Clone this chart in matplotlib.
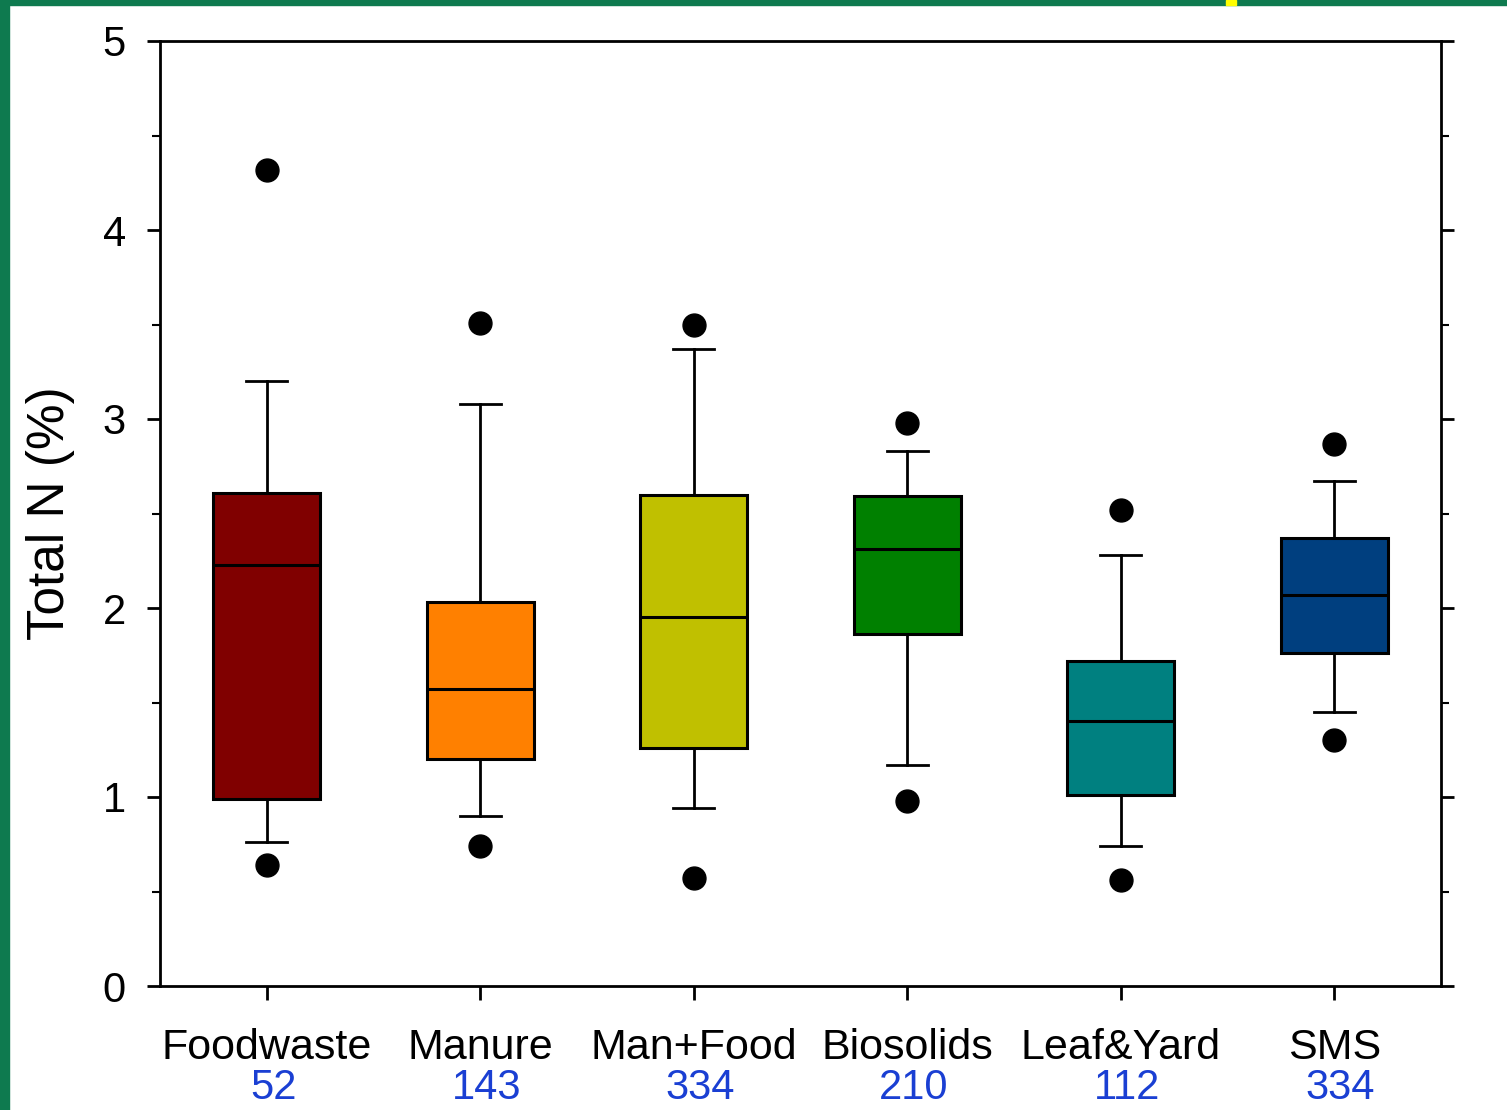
import numpy as np
from matplotlib import pyplot as plt
from matplotlib.patches import Rectangle
from matplotlib.transforms import blended_transform_factory

plt.rcParams['font.family'] = ['Liberation Sans', 'DejaVu Sans']

categories = ['Foodwaste', 'Manure', 'Man+Food', 'Biosolids', 'Leaf&Yard', 'SMS']
counts = ['52', '143', '334', '210', '112', '334']
colors = ['#800000', '#FF8000', '#C0C000', '#008000', '#008080', '#003F7F']

# Box statistics for total N (%)
whisker_low = [0.76, 0.90, 0.94, 1.17, 0.74, 1.45]
q1 = [0.99, 1.20, 1.26, 1.86, 1.01, 1.76]
median = [2.23, 1.57, 1.95, 2.31, 1.40, 2.07]
q3 = [2.61, 2.03, 2.60, 2.59, 1.72, 2.37]
whisker_high = [3.20, 3.08, 3.37, 2.83, 2.28, 2.67]
outliers = [[4.32, 0.64], [3.51, 0.74], [3.50, 0.57],
            [2.98, 0.98], [2.52, 0.56], [2.87, 1.30]]

stats = []
for i, name in enumerate(categories):
    stats.append(dict(label=name, whislo=whisker_low[i], q1=q1[i], med=median[i],
                      q3=q3[i], whishi=whisker_high[i], fliers=outliers[i]))

fig = plt.figure(figsize=(15.07, 11.10), dpi=100)
ax = fig.add_axes([160 / 1507, 1 - 986 / 1110, 1281 / 1507, 945 / 1110])

pos = np.arange(len(categories))
bp = ax.bxp(stats, positions=pos, widths=0.5, capwidths=0.19, patch_artist=True,
            boxprops=dict(linewidth=2.2, edgecolor='black'),
            medianprops=dict(color='black', linewidth=2.2),
            whiskerprops=dict(color='black', linewidth=2),
            capprops=dict(color='black', linewidth=2),
            flierprops=dict(marker='o', markerfacecolor='black', markeredgecolor='black',
                            markersize=16.5))
for patch, c in zip(bp['boxes'], colors):
    patch.set_facecolor(c)

ax.set_xlim(-0.5, len(categories) - 0.5)
ax.set_ylim(0, 5)
ax.set_xticks(pos)
ax.set_xticklabels(categories, fontsize=31)
ax.set_yticks([0, 1, 2, 3, 4, 5])
ax.set_yticks(np.arange(0.5, 5, 1), minor=True)
ax.tick_params(axis='y', which='major', direction='out', length=9.5, width=2,
               labelsize=30, pad=15, right=True)
ax.tick_params(axis='y', which='minor', direction='out', length=6, width=1.5, right=True)
ax.tick_params(axis='x', which='major', direction='out', length=10, width=2, pad=20)
for s in ax.spines.values():
    s.set_linewidth(2)
ax.set_ylabel('Total N (%)', fontsize=37, labelpad=20)

# sample counts under each category
tr = blended_transform_factory(ax.transData, ax.transAxes)
for p, n in zip(pos, counts):
    ax.text(p + 0.03, -0.120, n, transform=tr, ha='center', va='baseline', fontsize=30,
            color='#1A3FD3')

# slide frame
fig.patches.append(Rectangle((0, 0), 9 / 1507, 1, transform=fig.transFigure,
                             color='#0E7A4F', zorder=10))
fig.patches.append(Rectangle((0, 1 - 5 / 1110), 1, 5 / 1110, transform=fig.transFigure,
                             color='#0E7A4F', zorder=10))
fig.patches.append(Rectangle((1226 / 1507, 1 - 5 / 1110), 10 / 1507, 5 / 1110,
                             transform=fig.transFigure, color='#FFFF00', zorder=11))

fig.savefig('out.png', dpi=100)
